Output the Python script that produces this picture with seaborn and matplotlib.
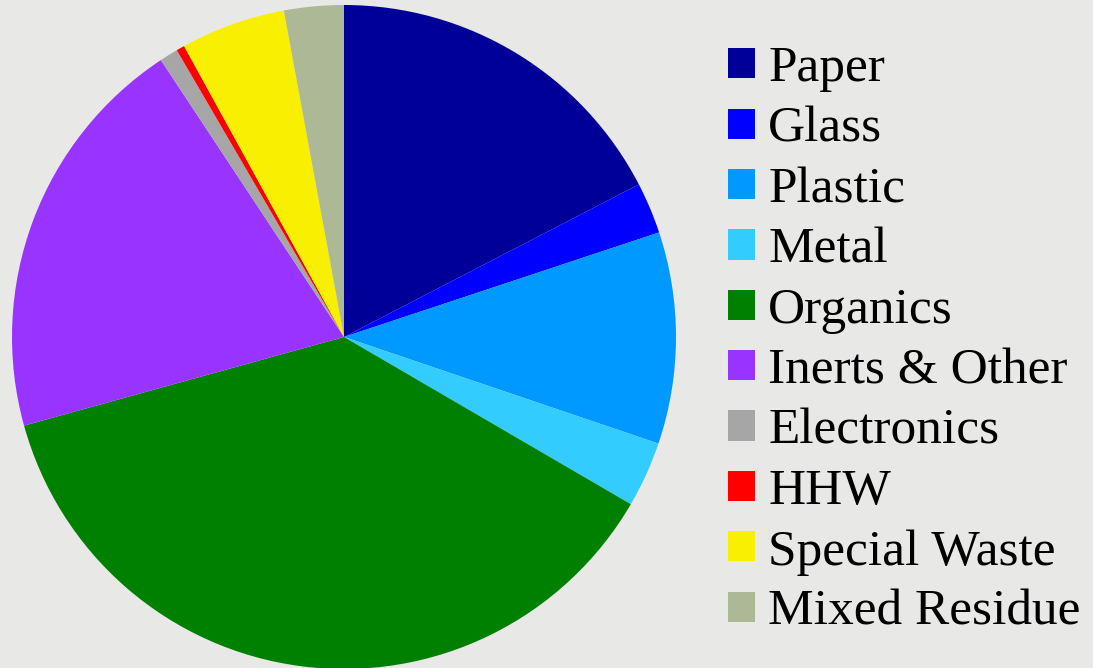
import matplotlib
matplotlib.use("Agg")
import matplotlib.pyplot as plt
import seaborn as sns
from matplotlib.patches import Patch

# waste composition shares (%)
categories = ["Paper", "Glass", "Plastic", "Metal", "Organics", "Inerts & Other",
              "Electronics", "HHW", "Special Waste", "Mixed Residue"]
shares = [17.4, 2.5, 10.3, 3.2, 37.3, 20.0, 0.9, 0.4, 5.1, 2.9]
colors = ["#000099", "#0000ff", "#0099ff", "#33ccff", "#008000", "#9933ff",
          "#a6a6a6", "#ff0000", "#f8f000", "#adb896"]

sns.set_theme(style="white")
plt.rcParams["font.family"] = ["Liberation Serif", "DejaVu Serif"]

bg = "#e8e8e7"
fig = plt.figure(figsize=(10.93, 6.68), dpi=100, facecolor=bg)

# pie centred at (344, 337) px, radius ~332 px
W, H = 1093, 668
cx, cy, r = 344, 337, 332
ax = fig.add_axes([(cx - r) / W, (H - cy - r) / H, 2 * r / W, 2 * r / H])
ax.set_facecolor("none")
ax.pie(shares, colors=colors, startangle=90, counterclock=False,
       radius=1, wedgeprops=dict(linewidth=0))
ax.set_xlim(-1, 1)
ax.set_ylim(-1, 1)
ax.set_aspect("equal")
ax.axis("off")

handles = [Patch(facecolor=c, edgecolor="none", label=l) for c, l in zip(colors, categories)]
fig.legend(handles=handles, loc="upper left", bbox_to_anchor=(728 / W, 1 - 46 / H),
           frameon=False, fontsize=37, labelcolor="black",
           handlelength=0.53, handleheight=0.53,
           handletextpad=0.25, labelspacing=0.27, borderpad=0, borderaxespad=0)

fig.savefig("out.png", dpi=100, facecolor=bg)
